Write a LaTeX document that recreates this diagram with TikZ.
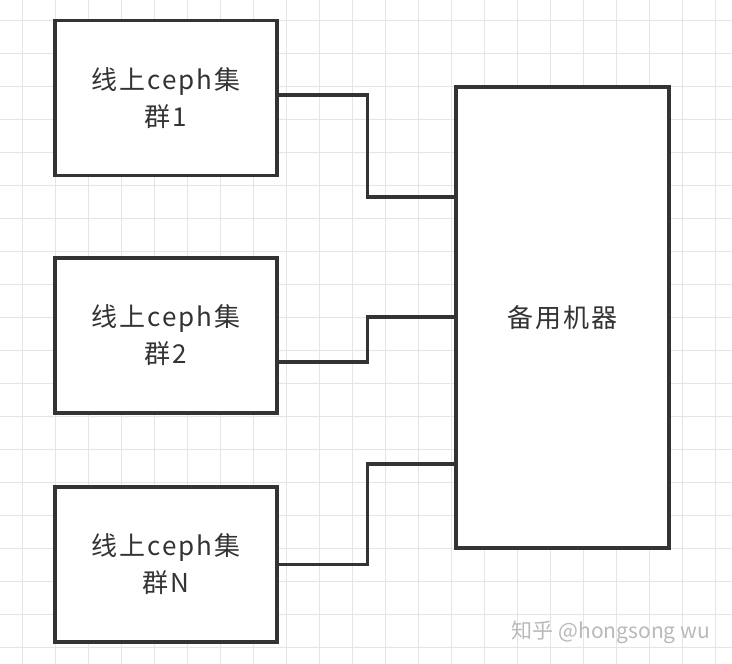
\documentclass[tikz,border=0pt]{standalone}
\usepackage{fontspec}
\usepackage{xcolor}
\newfontfamily\cjk[LetterSpace=8]{Noto Sans CJK SC}
\newfontfamily\markfont{Noto Sans CJK SC}
\usetikzlibrary{positioning}

\definecolor{boxline}{RGB}{51,51,51}
\definecolor{gridgray}{RGB}{229,229,229}
\definecolor{markgray}{RGB}{185,185,185}

\tikzset{
  gridline/.style={gridgray, line width=1pt},
  cluster/.style={draw=boxline, line width=3.3pt, fill=white, minimum width=222pt,
    minimum height=155pt, align=center, text=boxline,
    font=\cjk\fontsize{26}{37}\selectfont},
  link/.style={boxline, line width=3.3pt}
}

\begin{document}
\begin{tikzpicture}[x=1pt, y=-1pt]
\fill[white] (0,0) rectangle (732,664);
\useasboundingbox (0,0) rectangle (732,664);

% background grid
\foreach \i in {0,...,21} \draw[gridline] ({22+33*\i},0) -- ({22+33*\i},664);
\foreach \j in {0,...,19} \draw[gridline] (0,{20+33*\j}) -- (732,{20+33*\j});

\node[cluster] (c1) at (166,98) {线上ceph集\\群1};
\node[cluster] (c2) at (166,335.5) {线上ceph集\\群2};
\node[cluster] (c3) at (166,564.5) {线上ceph集\\群N};
\node[cluster, minimum width=213pt, minimum height=461pt] (backup) at (562.5,317.5) {备用机器};

\draw[link] ([yshift=3pt]c1.east) -- ++(89,0) |- ([yshift=120.5pt]backup.west);
\draw[link] ([yshift=-26.5pt]c2.east) -- ++(89,0) |- ([yshift=0.5pt]backup.west);
\draw[link] (c3.east) -- ++(89,0) |- ([yshift=-146.5pt]backup.west);

\node[markgray, font=\markfont\fontsize{21}{24}\selectfont] (mark) at (611,632) {知乎 @hongsong wu};
\end{tikzpicture}
\end{document}
